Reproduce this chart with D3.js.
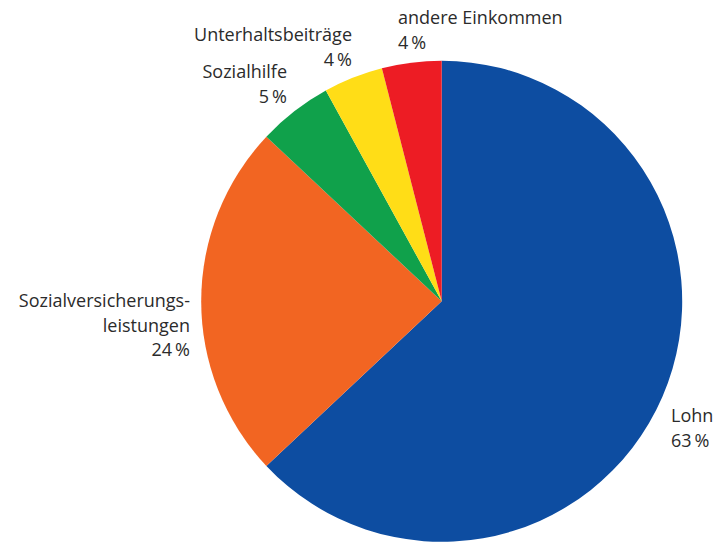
<!DOCTYPE html>
<html>
<head>
<meta charset="utf-8">
<script src="https://cdn.jsdelivr.net/npm/d3@7"></script>
<style>
  html, body { margin: 0; padding: 0; background: #fff; }
  svg { display: block; }
  text { font-family: "Open Sans", sans-serif; fill: #2b2b2b; }
</style>
</head>
<body>
<svg id="chart" width="715" height="542"></svg>
<script>
const categories = ["Lohn", "Sozialversicherungsleistungen", "Sozialhilfe", "Unterhaltsbeiträge", "andere Einkommen"];
const values = [63, 24, 5, 4, 4];
const colors = ["#0d4da1", "#f26522", "#10a14b", "#ffdd17", "#ed1c24"];
const labelLines = [
  ["Lohn", "63\u2009%"],
  ["Sozialversicherungs-", "leistungen", "24\u2009%"],
  ["Sozialhilfe", "5\u2009%"],
  ["Unterhaltsbeiträge", "4\u2009%"],
  ["andere Einkommen", "4\u2009%"]
];

const W = 715, H = 542;
const cx = 441.7, cy = 301.3, R = 240.5;
const svg = d3.select("#chart");

const pie = d3.pie().sort(null).value(d => d.value);
const arc = d3.arc().innerRadius(0).outerRadius(R);
const data = categories.map((c, i) => ({ name: c, value: values[i], color: colors[i], lines: labelLines[i] }));
const arcs = pie(data);

const g = svg.append("g").attr("transform", `translate(${cx},${cy})`);
g.selectAll("path").data(arcs).join("path")
  .attr("d", arc)
  .attr("fill", d => d.data.color);

// label placement: anchor point and alignment per slice (layout only)
const labelPos = [
  { x: 671, y: 422, anchor: "start" },
  { x: 190, y: 307, anchor: "end" },
  { x: 287, y: 78, anchor: "end" },
  { x: 352, y: 41, anchor: "end" },
  { x: 398, y: 24, anchor: "start" }
];
const lineH = 24.5;
const fs = 18;
svg.selectAll("text.lbl").data(arcs).join("text")
  .attr("class", "lbl")
  .attr("font-size", fs)
  .attr("text-anchor", (d, i) => labelPos[i].anchor)
  .each(function(d, i) {
    const t = d3.select(this);
    d.data.lines.forEach((ln, j) => {
      t.append("tspan")
        .attr("x", labelPos[i].x)
        .attr("y", labelPos[i].y + j * lineH)
        .text(ln);
    });
  });
</script>
</body>
</html>
